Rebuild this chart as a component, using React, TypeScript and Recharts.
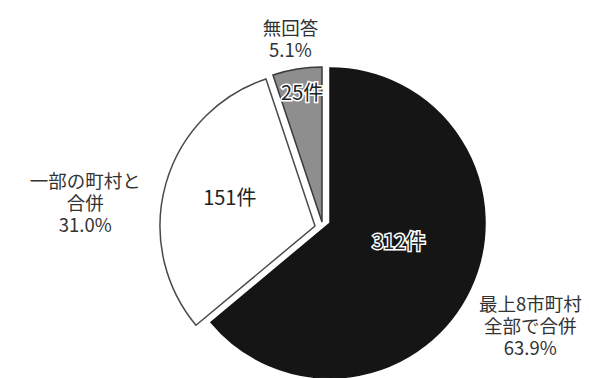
import { PieChart, Pie, Cell } from 'recharts'

const categories = ['最上8市町村全部で合併', '一部の町村と合併', '無回答']
const labelLines = [['最上8市町村', '全部で合併'], ['一部の町村と', '合併'], ['無回答']]
const counts = [312, 151, 25]
const shares = ['63.9%', '31.0%', '5.1%']
const unit = '件'

const data = categories.map((name, i) => ({ name, value: counts[i] }))

const RADIAN = Math.PI / 180
const RADIUS = 155
const LINE = 22
const FONT = '"Noto Sans CJK JP", "Noto Sans", sans-serif'

// every slice is drawn by its own pie so it can be pulled out a bit
const slices = [
  { fill: '#151515', stroke: '#151515', cx: 330, cy: 223, outer: { r: 225, turn: -2 }, inner: { r: 71, turn: 11 }, halo: true },
  { fill: '#ffffff', stroke: '#4a4a4a', cx: 315, cy: 226, outer: { r: 231, turn: 10 }, inner: { r: 90, turn: -3 }, halo: false },
  { fill: '#8e8e8e', stroke: '#3a3a3a', cx: 322, cy: 222, outer: { r: 187, turn: 0.5 }, inner: { r: 132, turn: -0.6 }, halo: true },
]

const makeLabel = (idx: number) => (props: any) => {
  if (props.index !== idx) return null
  const s = slices[idx]
  const { cx, cy, midAngle } = props
  const pos = (r: number, turn: number) => ({
    x: cx + r * Math.cos(-(midAngle + turn) * RADIAN),
    y: cy + r * Math.sin(-(midAngle + turn) * RADIAN),
  })
  const o = pos(s.outer.r, s.outer.turn)
  const inn = pos(s.inner.r, s.inner.turn)
  const lines = [...labelLines[idx], shares[idx]]
  const top = o.y - ((lines.length - 1) / 2) * LINE
  return (
    <g>
      {lines.map((t, k) => (
        <text
          key={k}
          x={o.x}
          y={top + k * LINE}
          textAnchor="middle"
          dominantBaseline="central"
          fill="#333"
          fontSize={18.5}
          fontFamily={FONT}
        >
          {t}
        </text>
      ))}
      <text
        x={inn.x}
        y={inn.y}
        textAnchor="middle"
        dominantBaseline="central"
        fill="#222"
        stroke={s.halo ? '#fff' : 'none'}
        strokeWidth={3}
        paintOrder="stroke"
        fontSize={20}
        fontFamily={FONT}
      >
        {counts[idx]}{unit}
      </text>
    </g>
  )
}

export default function App() {
  return (
    <div style={{ position: 'absolute', left: 0, top: 0, width: 589, height: 378, background: '#fff' }}>
      <PieChart width={589} height={378} margin={{ top: 0, right: 0, bottom: 0, left: 0 }}>
        {slices.map((s, idx) => (
          <Pie
            key={idx}
            data={data}
            dataKey="value"
            nameKey="name"
            cx={s.cx}
            cy={s.cy}
            outerRadius={RADIUS}
            startAngle={90}
            endAngle={-270}
            labelLine={false}
            label={makeLabel(idx)}
            isAnimationActive={false}
          >
            {data.map((entry, i) => (
              <Cell
                key={entry.name}
                fill={i === idx ? s.fill : 'none'}
                stroke={i === idx ? s.stroke : 'none'}
                strokeWidth={1.5}
              />
            ))}
          </Pie>
        ))}
      </PieChart>
    </div>
  )
}
